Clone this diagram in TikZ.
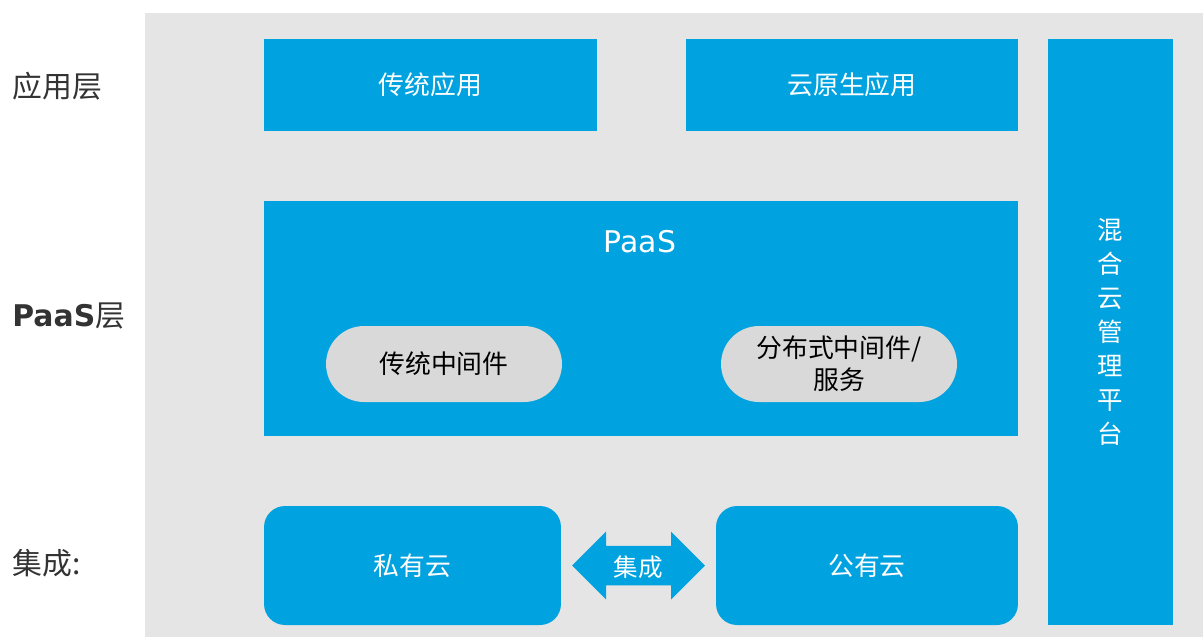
\documentclass[tikz,border=0pt]{standalone}
\usepackage{fontspec}
\setmainfont{Noto Sans CJK SC}
\newfontfamily\latinfont{DejaVu Sans}
\usetikzlibrary{shapes.arrows, calc}
\definecolor{azure}{RGB}{0,162,223}
\definecolor{panel}{RGB}{229,229,229}
\definecolor{pillgray}{RGB}{217,217,217}
\definecolor{ink}{RGB}{51,51,51}
\tikzstyle{bluebox} = [rectangle, fill=azure, text=white, inner sep=0pt, font=\fontsize{14.7}{18}\selectfont]
\tikzstyle{pill} = [rectangle, rounded corners=0.76cm, fill=pillgray, text=black, minimum width=4.72cm, minimum height=1.52cm, align=center, font=\fontsize{14.7}{18}\selectfont]
\tikzstyle{cloud} = [rectangle, rounded corners=0.42cm, fill=azure, text=white, minimum height=2.38cm, font=\fontsize{14.7}{18}\selectfont]
\tikzstyle{layer} = [anchor=west, inner sep=0pt, text=ink, font=\fontsize{17}{20}\selectfont]

\begin{document}
\begin{tikzpicture}[x=0.02cm, y=-0.02cm]
        \useasboundingbox (0,0) rectangle (1203,637);
        \fill [panel] (145,13) rectangle (1203,637);

        % layer labels
        \node (lapp) [layer] at (12,86) {应用层};
        \node (lpaas) [layer] at (12,316) {{\latinfont\bfseries PaaS}层};
        \node (lint) [layer] at (12,563) {集成:};

        % application layer
        \node (legacy) [bluebox, minimum width=6.66cm, minimum height=1.84cm] at (430.5,85) {传统应用};
        \node (native) [bluebox, minimum width=6.64cm, minimum height=1.84cm] at (852,85) {云原生应用};

        % PaaS layer
        \node (paas) [bluebox, minimum width=15.08cm, minimum height=4.7cm] at (641,318.5) {};
        \node (paastitle) [text=white, font=\latinfont\fontsize{17}{20}\selectfont] at (640,242) {PaaS};
        \node (mw) [pill] at (444,364) {传统中间件};
        \node (dmw) [pill, font=\fontsize{14.7}{18.2}\selectfont] at (839,364) {分布式中间件/\\服务};

        % management bar
        \node (mgmt) [bluebox, minimum width=2.5cm, minimum height=11.72cm, align=center, font=\fontsize{14.5}{19.3}\selectfont] at (1110.5,332) {混\\合\\云\\管\\理\\平\\台};

        % clouds
        \node (private) [cloud, minimum width=5.94cm] at (412.5,565.5) {私有云};
        \node (public) [cloud, minimum width=6.04cm] at (867,565.5) {公有云};

        % integration arrow
        \node (link) [double arrow, fill=azure, text=white, inner xsep=0pt, inner ysep=0pt,
              text height=0.55cm, text depth=0.13cm, minimum height=2.66cm, minimum width=1.36cm,
              double arrow tip angle=90, double arrow head indent=0pt,
              font=\fontsize{14}{17}\selectfont] at ($(private.east)!0.5!(public.west)$) {集成};
    \end{tikzpicture}
\end{document}
